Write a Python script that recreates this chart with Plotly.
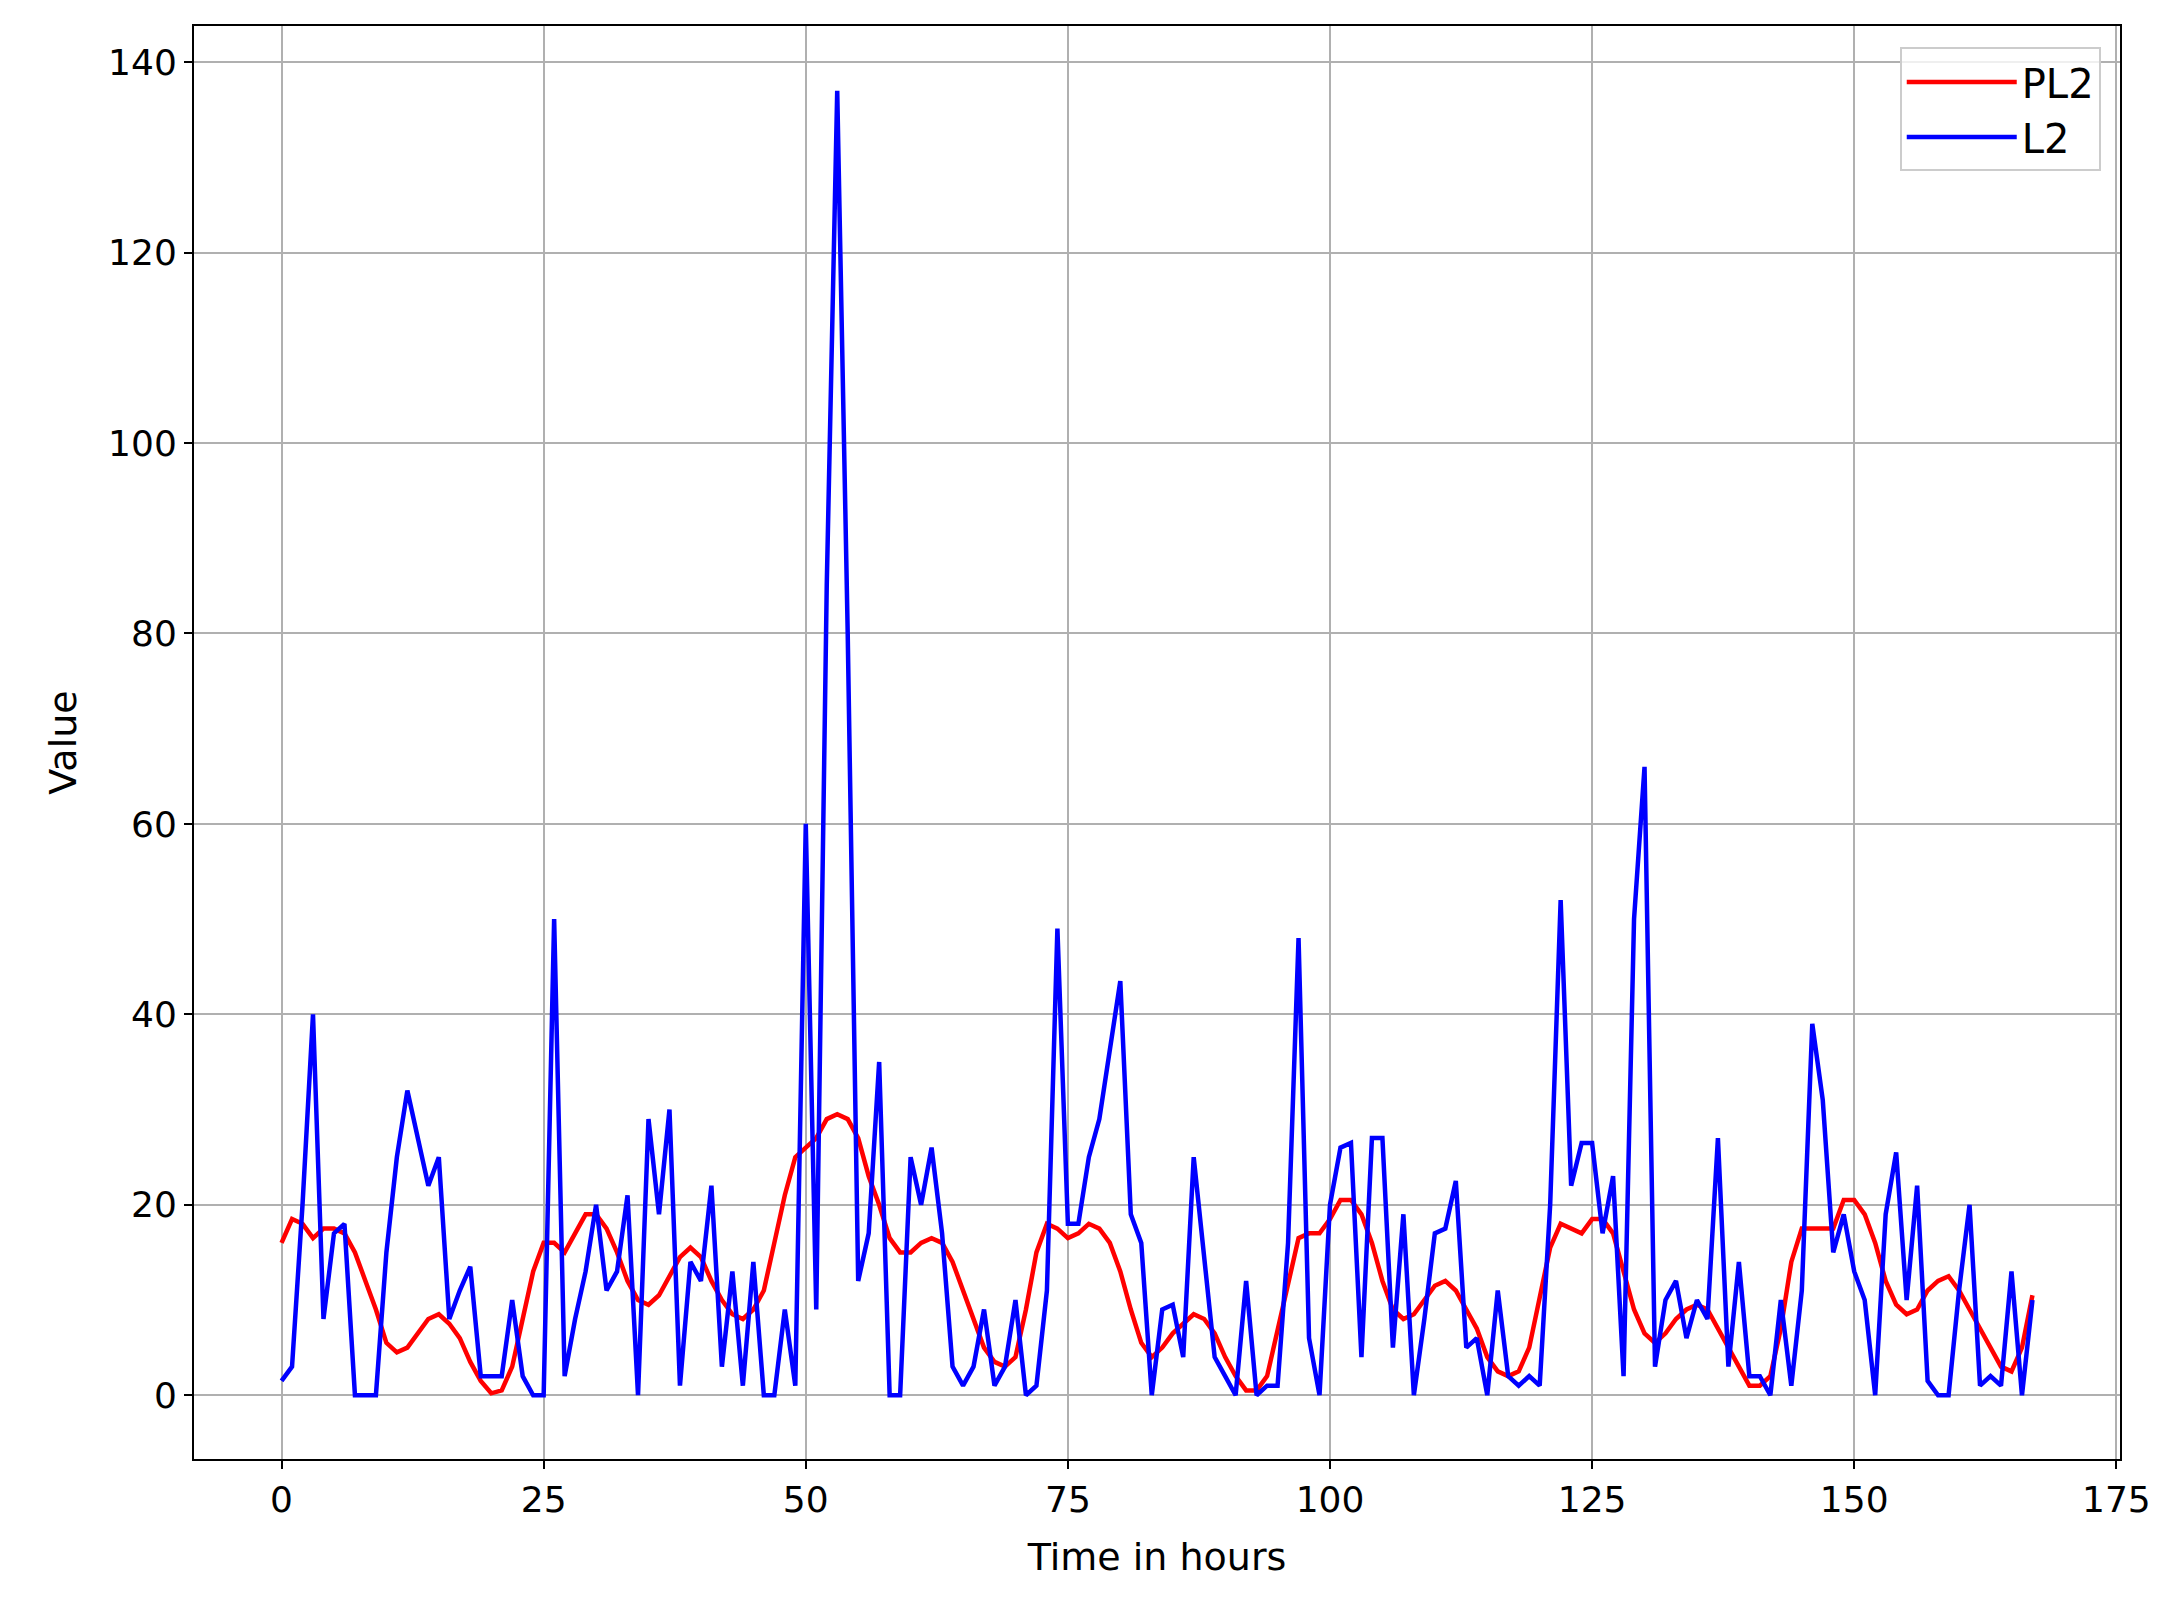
import plotly.graph_objects as go

hours = list(range(168))
L2 = [1.5,3,20,40,8,17,18,0,0,0,15,25,32,27,22,25,8,11,13.5,2,2,2,10,2,0,0,50,2,8,13,20,11,13,21,0,29,19,30,1,14,12,22,3,13,1,14,0,0,9,1,
      60,9,85,137,80,12,17,35,0,0,25,20,26,17,3,1,3,9,1,3,10,0,1,11,49,18,18,25,29,36,43.5,19,16,0,9,9.5,4,25,14,4,2,0,12,0,1,1,16,48,6,0,
      20,26,26.5,4,27,27,5,19,0,8,17,17.5,22.5,5,6,0,11,2,1,2,1,20,52,22,26.5,26.5,17,23,2,50,66,3,10,12,6,10,8,27,3,14,2,2,0,10,1,11,39,31,15,19,
      13,10,0,19,25.5,10,22,1.5,0,0,11,20,1,2,1,13,0,10]
PL2 = [16,18.5,18,16.5,17.5,17.5,17,15,12,9,5.5,4.5,5,6.5,8,8.5,7.5,6,3.5,1.5,0.2,0.5,3,8,13,16,16,15,17,19,19,17.5,15,12,10,9.5,10.5,12.5,14.5,15.5,
       14.5,12,10,8.5,8,9,11,16,21,25,26,27,29,29.5,29,27,23,20,16.5,15,15,16,16.5,16,14,11,8,5,3.5,3,4,9,15,18,17.5,16.5,17,18,17.5,16,
       13,9,5.5,4,5,6.5,7.5,8.5,8,6.5,4,2,0.5,0.5,2,7,12,16.5,17,17,18.5,20.5,20.5,19,16,12,9,8,8.5,10,11.5,12,11,9,7,4,2.5,2,2.5,5,
       10,15.5,18,17.5,17,18.5,18.5,17,13,9,6.5,5.5,6.5,8,9,9.5,9,7,5,3,1,1,2,7,14,17.5,17.5,17.5,17.5,20.5,20.5,19,16,12,9.5,8.5,9,11,12,12.5,
       11,9,7,5,3,2.5,5,10.5]

fig = go.Figure()
fig.add_trace(go.Scatter(x=hours, y=PL2, mode="lines", name="PL2", line=dict(color="red", width=4.5)))
fig.add_trace(go.Scatter(x=hours, y=L2, mode="lines", name="L2", line=dict(color="blue", width=4.5)))

ax = dict(showline=True, mirror=True, linecolor="black", linewidth=2, ticks="outside", ticklen=8, tickwidth=2,
          tickcolor="black", showgrid=True, gridcolor="#b0b0b0", gridwidth=2, zeroline=False,
          tickfont=dict(size=36, color="black"))
fig.update_layout(
    width=2167, height=1604, plot_bgcolor="white", paper_bgcolor="white",
    font=dict(family="DejaVu Sans", color="black"),
    margin=dict(l=186, r=55, t=18, b=153),
    xaxis=dict(ax, range=[-8.35, 175.35], tickvals=[0,25,50,75,100,125,150,175],
               title=dict(text="Time in hours", font=dict(size=38), standoff=24)),
    yaxis=dict(ax, range=[-6.7, 143.8], tickvals=[0,20,40,60,80,100,120,140],
               title=dict(text="Value", font=dict(size=38), standoff=20)),
    legend=dict(x=0.99, y=0.985, xanchor="right", yanchor="top", bgcolor="rgba(255,255,255,0.8)",
                bordercolor="#cccccc", borderwidth=2, font=dict(size=40), itemwidth=110,
                tracegroupgap=10),
)
fig.write_html("out.html")
